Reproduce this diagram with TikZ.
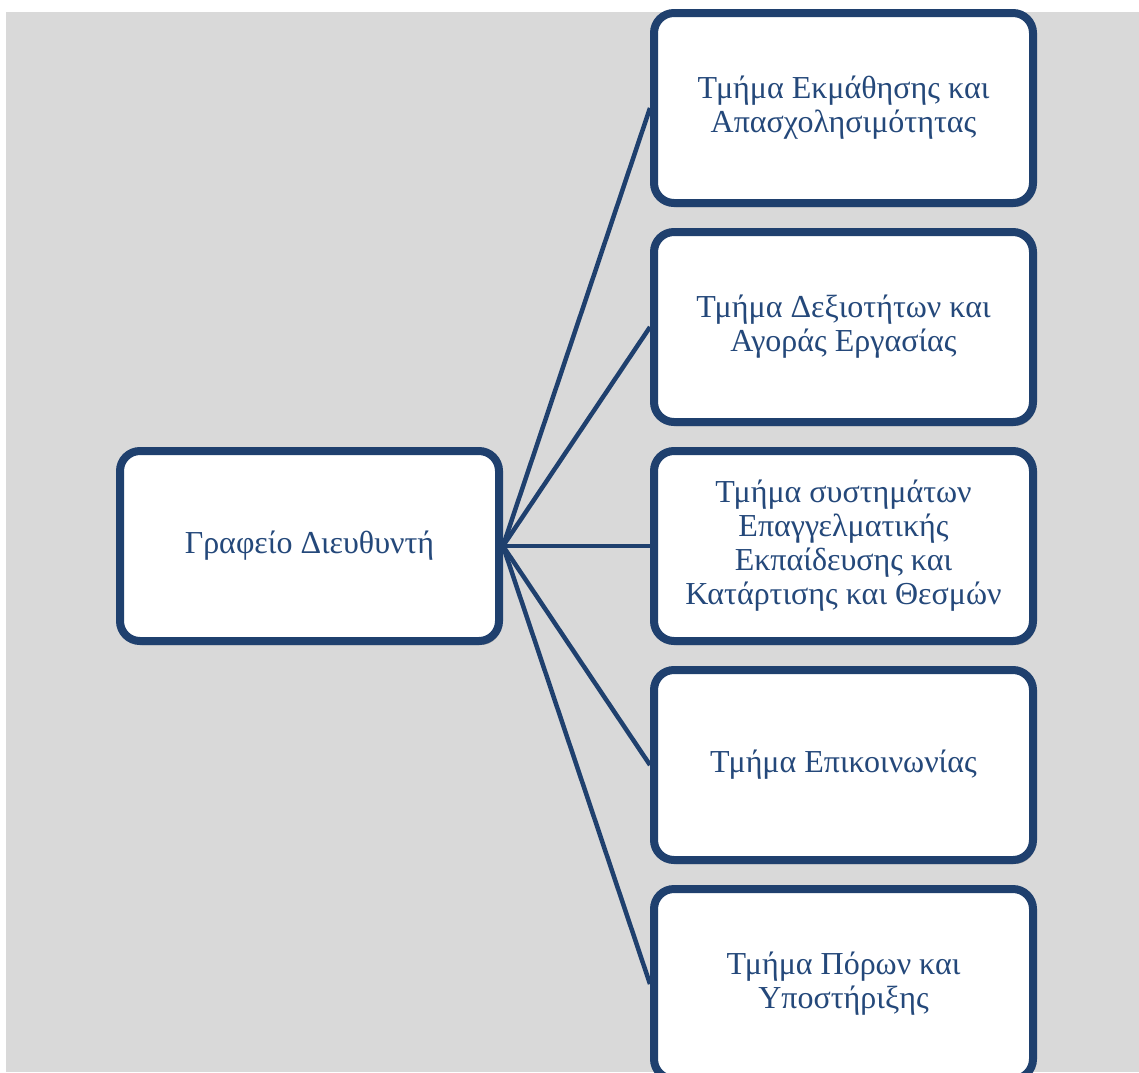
\documentclass[tikz,border=0pt]{standalone}
\usepackage{fontspec}
\setmainfont{Liberation Serif}
\usetikzlibrary{shadows}
\definecolor{bggray}{RGB}{217,217,217}
\definecolor{boxblue}{RGB}{31,64,110}
\definecolor{textblue}{RGB}{36,72,122}

\begin{document}
\begin{tikzpicture}[x=1pt,y=-1pt,
	unitbox/.style={draw=boxblue, line width=8pt, fill=white, rounded corners=20pt,
		minimum width=379pt, minimum height=190pt, inner sep=0pt, align=center,
		text=textblue, font=\fontsize{32}{34}\selectfont,
		drop shadow={shadow xshift=2pt, shadow yshift=-4pt, opacity=0.25, fill=black}},
	branch/.style={draw=boxblue, line width=4.5pt}]
					\useasboundingbox (0,0) rectangle (1139,1072);
					\fill[bggray] (6,12) rectangle (1139,1072);

					\node[unitbox] (director) at (309.5,546) {Γραφείο Διευθυντή};

					\node[unitbox] (learning) at (843.5,108) {Τμήμα Εκμάθησης και\\Απασχολησιμότητας};
					\node[unitbox] (skills) at (843.5,327) {Τμήμα Δεξιοτήτων και\\Αγοράς Εργασίας};
					\node[unitbox] (vet) at (843.5,546) {Τμήμα συστημάτων\\Επαγγελματικής\\Εκπαίδευσης και\\Κατάρτισης και Θεσμών};
					\node[unitbox] (comm) at (843.5,765) {Τμήμα Επικοινωνίας};
					\node[unitbox] (resources) at (843.5,984) {Τμήμα Πόρων και\\Υποστήριξης};

					\draw[branch] (director.east) -- (learning.west);
					\draw[branch] (director.east) -- (skills.west);
					\draw[branch] (director.east) -- (vet.west);
					\draw[branch] (director.east) -- (comm.west);
					\draw[branch] (director.east) -- (resources.west);
\end{tikzpicture}
\end{document}
